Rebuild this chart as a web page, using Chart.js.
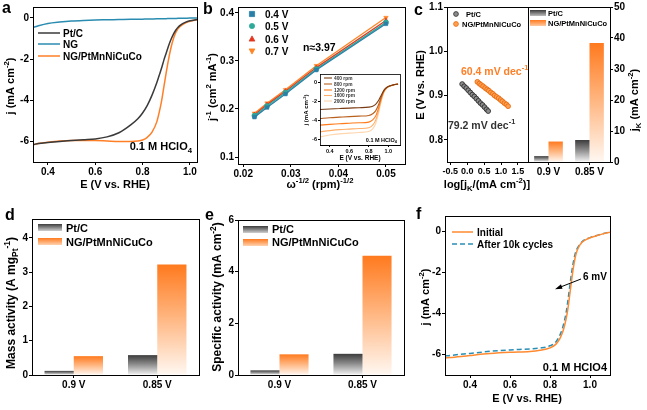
<!DOCTYPE html>
<html><head><meta charset="utf-8">
<script src="https://cdn.jsdelivr.net/npm/chart.js@4/dist/chart.umd.min.js"></script>
<style>
html,body{margin:0;padding:0;background:#fff;}
#wrap{position:relative;width:647px;height:410px;overflow:hidden;background:#fff;}
canvas{position:absolute;left:0;top:0;}
</style></head><body><div id="wrap">
<canvas id="cA" width="647" height="410"></canvas>
<canvas id="cB" width="647" height="410"></canvas>
<canvas id="cI" width="647" height="410"></canvas>
<canvas id="cC1" width="647" height="410"></canvas>
<canvas id="cC2" width="647" height="410"></canvas>
<canvas id="cD" width="647" height="410"></canvas>
<canvas id="cE" width="647" height="410"></canvas>
<canvas id="cF" width="647" height="410"></canvas>
</div>
<script>
// ---------- DATA ----------
// (a) LSV curves
const potA = [0.34,0.36,0.4,0.45,0.5,0.55,0.6,0.65,0.7,0.75,0.78,0.8,0.82,0.84,0.86,0.87,0.88,0.89,0.9,0.91,0.92,0.93,0.94,0.95,0.96,0.98,1.0,1.03];
const jPtC_A = [-6.15,-6.1,-6.05,-6.0,-5.96,-5.92,-5.88,-5.78,-5.58,-5.2,-4.9,-4.62,-4.25,-3.75,-3.15,-2.8,-2.45,-2.05,-1.7,-1.35,-1.05,-0.8,-0.6,-0.45,-0.35,-0.22,-0.14,-0.08];
const jNG_A = [-0.45,-0.38,-0.27,-0.2,-0.15,-0.12,-0.1,-0.09,-0.08,-0.07,-0.065,-0.06,-0.055,-0.05,-0.045,-0.043,-0.04,-0.038,-0.035,-0.033,-0.03,-0.028,-0.025,-0.022,-0.02,-0.015,-0.01,0.0];
const jHEA_A = [-6.15,-6.1,-6.04,-5.98,-5.95,-5.95,-5.96,-5.98,-6.0,-6.0,-5.98,-5.93,-5.8,-5.55,-5.05,-4.6,-4.05,-3.35,-2.65,-2.0,-1.45,-1.02,-0.72,-0.52,-0.4,-0.25,-0.16,-0.09];
const namesA = ['Pt/C','NG','NG/PtMnNiCuCo'];
const ticksAx = [0.4,0.6,0.8,1.0];
const ticksAy = [0,-2,-4,-6];

// (b) K-L plots
const omegaB = [0.02236,0.025,0.02887,0.03536,0.05];
const kl04 = [0.183,0.203,0.231,0.281,0.377];
const kl05 = [0.186,0.206,0.234,0.283,0.380];
const kl06 = [0.188,0.209,0.237,0.286,0.384];
const kl07 = [0.191,0.212,0.240,0.290,0.390];
const namesB = ['0.4 V','0.5 V','0.6 V','0.7 V'];
const ticksBx = [0.02,0.03,0.04,0.05];
const ticksBy = [0.1,0.2,0.3,0.4];

// (b) inset: LSV at rotation rates
const potI = [0.3,0.4,0.5,0.6,0.7,0.8,0.84,0.87,0.9,0.92,0.94,0.96,0.98,1.0,1.05,1.1];
const r400  = [-2.85,-2.8,-2.75,-2.7,-2.66,-2.6,-2.5,-2.3,-1.9,-1.5,-1.1,-0.75,-0.55,-0.42,-0.25,-0.15];
const r800  = [-3.8,-3.72,-3.66,-3.6,-3.55,-3.48,-3.3,-3.0,-2.35,-1.75,-1.2,-0.8,-0.57,-0.43,-0.25,-0.15];
const r1200 = [-4.5,-4.42,-4.35,-4.3,-4.25,-4.18,-3.95,-3.55,-2.7,-1.95,-1.3,-0.85,-0.6,-0.44,-0.26,-0.15];
const r1600 = [-5.2,-5.08,-4.98,-4.92,-4.86,-4.78,-4.5,-4.0,-3.0,-2.15,-1.4,-0.9,-0.62,-0.45,-0.26,-0.15];
const r2000 = [-5.75,-5.55,-5.42,-5.35,-5.28,-5.18,-4.9,-4.35,-3.25,-2.3,-1.5,-0.95,-0.64,-0.46,-0.27,-0.15];
const namesI = ['400 rpm','800 rpm','1200 rpm','1600 rpm','2000 rpm'];
const ticksIx = [0.4,0.6,0.8,1.0];
const ticksIy = [0,-2,-4,-6];

// (c) Tafel plots
const logjPt = [-0.15,-0.09,-0.03,0.03,0.09,0.15,0.21,0.27,0.33,0.39,0.45,0.51,0.57,0.62];
const ePt    = [0.926,0.921,0.917,0.912,0.907,0.902,0.898,0.893,0.888,0.883,0.879,0.874,0.869,0.865];
const logjHEA = [0.30,0.36,0.41,0.47,0.53,0.59,0.64,0.70,0.76,0.81,0.87,0.93,0.99,1.04,1.10,1.16,1.21];
const eHEA    = [0.931,0.927,0.924,0.921,0.917,0.914,0.911,0.907,0.904,0.900,0.897,0.894,0.890,0.887,0.883,0.880,0.876];
const ticksCx = [-0.5,0,0.5,1.0,1.5];
const ticksCy = [0.8,0.9,1.0,1.1];
// (c) kinetic current bars
const catV = ['0.9 V','0.85 V'];
const jkPt = [1.9,7.1];
const jkHEA = [6.6,38.4];
const ticksCr = [0,10,20,30,40,50];
const namesBar = ['Pt/C','NG/PtMnNiCuCo'];

// (d) mass activity
const maPt = [0.12,0.58];
const maHEA = [0.55,3.22];
const ticksDy = [0,1,2,3,4];
// (e) specific activity
const saPt = [0.18,0.82];
const saHEA = [0.80,4.62];
const ticksEy = [0,2,4,6];

// (f) stability
const potF = [0.275,0.3,0.4,0.5,0.6,0.7,0.75,0.8,0.83,0.85,0.86,0.87,0.88,0.89,0.9,0.91,0.92,0.93,0.94,0.96,0.98,1.0,1.03,1.06,1.1];
const jInit = [-6.17,-6.15,-6.05,-5.96,-5.9,-5.86,-5.8,-5.68,-5.5,-5.22,-5.0,-4.7,-4.3,-3.75,-3.0,-2.25,-1.6,-1.12,-0.85,-0.55,-0.42,-0.33,-0.24,-0.15,-0.06];
const jAfter = [-6.08,-6.05,-5.95,-5.85,-5.78,-5.73,-5.69,-5.58,-5.38,-5.05,-4.8,-4.45,-4.0,-3.35,-2.6,-1.9,-1.35,-0.98,-0.78,-0.52,-0.4,-0.32,-0.23,-0.14,-0.05];
const namesF = ['Initial','After 10k cycles'];
const ticksFx = [0.4,0.6,0.8,1.0];
const ticksFy = [0,-2,-4,-6];

// ---------- STYLE / HELPERS ----------
const FONT = '"Liberation Sans", Arial, Helvetica, sans-serif';
const W = 647, H = 410;
const C_PT = '#3a3a3a', C_NG = '#2a8cb0', C_OR = '#ff7f27';
Chart.defaults.font.family = FONT;
Chart.defaults.font.weight = 'bold';
Chart.defaults.font.size = 10;
Chart.defaults.color = '#000';
Chart.defaults.animation = false;
Chart.defaults.responsive = false;
Chart.defaults.devicePixelRatio = 1;
Chart.defaults.plugins.legend.display = false;
Chart.defaults.plugins.tooltip.enabled = false;

const xy = (xs, ys) => xs.map((x, i) => ({x: x, y: ys[i]}));
function pad(l, t, r, b, yW, xH, rW) {
  return {left: l - yW, top: t, right: W - r - (rW || 0), bottom: H - b - xH};
}
function linAxis(pos, min, max, vals, fmt, size, fs, tl) {
  const horiz = pos === 'bottom' || pos === 'top';
  return {
    type: 'linear', position: pos, min: min, max: max,
    border: {color: '#000', width: 1},
    grid: {drawOnChartArea: false, drawTicks: true, tickLength: tl || 3, color: '#000', lineWidth: 1},
    ticks: {color: '#000', font: {size: fs || 10, weight: 'bold'}, padding: 1, maxRotation: 0, minRotation: 0, autoSkip: false,
            callback: (v) => fmt(v)},
    afterBuildTicks: (s) => { s.ticks = vals.map(v => ({value: v})); },
    afterFit: (s) => { if (horiz) s.height = size; else s.width = size; }
  };
}
function catAxis(size) {
  return {
    type: 'category', position: 'bottom', offset: true,
    border: {color: '#000', width: 1},
    grid: {offset: false, drawOnChartArea: false, drawTicks: true, tickLength: 3, color: '#000'},
    ticks: {color: '#000', font: {size: 10, weight: 'bold'}, padding: 1, maxRotation: 0, minRotation: 0, autoSkip: false},
    afterFit: (s) => { s.height = size; }
  };
}
function rich(ctx, parts, x, y, o) {
  o = o || {};
  const size = o.size || 11, wt = o.weight || 'bold';
  ctx.save();
  ctx.translate(x, y);
  if (o.rot) ctx.rotate(o.rot);
  ctx.fillStyle = o.color || '#000';
  ctx.textBaseline = 'alphabetic';
  ctx.textAlign = 'left';
  const segs = parts.map(p => {
    const m = p[1] || 0, s = m ? size * 0.7 : size;
    ctx.font = wt + ' ' + s + 'px ' + FONT;
    return {t: p[0], m: m, s: s, w: ctx.measureText(p[0]).width};
  });
  const total = segs.reduce((a, b) => a + b.w, 0);
  let cx = o.align === 'left' ? 0 : o.align === 'right' ? -total : -total / 2;
  const base = size * 0.36;
  segs.forEach(sg => {
    ctx.font = wt + ' ' + sg.s + 'px ' + FONT;
    const dy = sg.m === 1 ? -size * 0.42 : sg.m === -1 ? size * 0.25 : 0;
    ctx.fillText(sg.t, cx, base + dy);
    cx += sg.w;
  });
  ctx.restore();
}
function letter(ctx, t, x, y) {
  ctx.save(); ctx.font = 'bold 16px ' + FONT; ctx.fillStyle = '#000';
  ctx.textBaseline = 'alphabetic'; ctx.fillText(t, x, y); ctx.restore();
}
function frame(chart, lw) {
  const ctx = chart.ctx, a = chart.chartArea;
  ctx.save(); ctx.strokeStyle = '#000'; ctx.lineWidth = lw || 1;
  ctx.strokeRect(Math.round(a.left) + 0.5, Math.round(a.top) + 0.5, Math.round(a.right - a.left), Math.round(a.bottom - a.top));
  ctx.restore();
}
function legLine(ctx, x1, x2, y, color, dash, lw) {
  ctx.save(); ctx.strokeStyle = color; ctx.lineWidth = lw || 1.5;
  if (dash) ctx.setLineDash(dash);
  ctx.beginPath(); ctx.moveTo(x1, y); ctx.lineTo(x2, y); ctx.stroke(); ctx.restore();
}
function marker(ctx, style, x, y, r, fill, stroke) {
  ctx.save(); ctx.fillStyle = fill; ctx.strokeStyle = stroke; ctx.lineWidth = 0.8;
  ctx.beginPath();
  if (style === 'circle') ctx.arc(x, y, r, 0, Math.PI * 2);
  else if (style === 'rect') ctx.rect(x - r, y - r, 2 * r, 2 * r);
  else if (style === 'tri') { ctx.moveTo(x, y - r * 1.2); ctx.lineTo(x + r * 1.1, y + r * 0.8); ctx.lineTo(x - r * 1.1, y + r * 0.8); ctx.closePath(); }
  else if (style === 'trid') { ctx.moveTo(x, y + r * 1.2); ctx.lineTo(x + r * 1.1, y - r * 0.8); ctx.lineTo(x - r * 1.1, y - r * 0.8); ctx.closePath(); }
  ctx.fill(); ctx.stroke(); ctx.restore();
}
function legBox(ctx, x, y, w, h, top, bottom) {
  const g = ctx.createLinearGradient(0, y, 0, y + h);
  g.addColorStop(0, top); g.addColorStop(1, bottom);
  ctx.save(); ctx.fillStyle = g; ctx.fillRect(x, y, w, h); ctx.restore();
}
function gradFill(top, mid, bottom) {
  return (c) => {
    const chart = c.chart;
    if (c.type !== 'data' || !chart.chartArea) return top;
    const ys = chart.scales.y;
    const y1 = ys.getPixelForValue(c.raw), y0 = ys.getPixelForValue(0);
    const g = chart.ctx.createLinearGradient(0, y1, 0, y0);
    g.addColorStop(0, top); g.addColorStop(0.45, mid); g.addColorStop(1, bottom);
    return g;
  };
}
const GRAY_T = '#3c3c3c', GRAY_M = '#8a8a8a', GRAY_B = '#f4f4f4';
const OR_T = '#ff7a1e', OR_M = '#ffb27a', OR_B = '#fff8f2';
const f1 = v => v.toFixed(1), f2 = v => v.toFixed(2), f0 = v => String(Math.round(v));
const HCLO4 = [['0.1 M HClO', 0], ['4', -1]];
const lineDS = (label, xs, ys, color, extra) => Object.assign({
  label: label, data: xy(xs, ys), showLine: true, borderColor: color, backgroundColor: color,
  borderWidth: 1.5, pointRadius: 0, cubicInterpolationMode: 'monotone'
}, extra || {});

// ---------- (a) ----------
new Chart(document.getElementById('cA'), {
  type: 'scatter',
  data: {datasets: [
    lineDS(namesA[1], potA, jNG_A, C_NG),
    lineDS(namesA[0], potA, jPtC_A, C_PT),
    lineDS(namesA[2], potA, jHEA_A, C_OR)
  ]},
  options: {
    layout: {padding: pad(33, 6, 197, 162, 33, 22)},
    scales: {
      x: linAxis('bottom', 0.337, 1.03, ticksAx, f1, 22),
      y: linAxis('left', -7, 0.53, ticksAy, f0, 33)
    }
  },
  plugins: [{id: 'decoA', afterDraw(chart) {
    const ctx = chart.ctx; frame(chart);
    letter(ctx, 'a', 2, 13);
    rich(ctx, [['E (V vs. RHE)', 0]], 115, 184, {size: 11});
    rich(ctx, [['j (mA cm', 0], ['-2', 1], [')', 0]], 10, 86, {size: 11, rot: -Math.PI / 2});
    rich(ctx, HCLO4, 192, 146, {size: 11, align: 'right'});
    const rows = [[C_PT, namesA[0], 33], [C_NG, namesA[1], 44], [C_OR, namesA[2], 56]];
    rows.forEach(r => { legLine(ctx, 38, 60, r[2], r[0]); rich(ctx, [[r[1], 0]], 63, r[2], {size: 10, align: 'left'}); });
  }}]
});

// ---------- (b) ----------
const colB = ['#2a7fa6', '#2faa98', '#e3361f', '#ff8424'];
const styB = ['rect', 'circle', 'triangle', 'triangle'];
const klSets = [kl04, kl05, kl06, kl07];
new Chart(document.getElementById('cB'), {
  type: 'scatter',
  data: {datasets: klSets.map((d, i) => ({
    label: namesB[i], data: xy(omegaB, d), showLine: true, borderColor: colB[i], backgroundColor: colB[i],
    borderWidth: 1.3, pointRadius: 2.6, pointStyle: styB[i], pointRotation: i === 3 ? 180 : 0, pointBorderWidth: 0.5
  }))},
  options: {
    layout: {padding: pad(238, 6, 405, 164, 26, 20)},
    scales: {
      x: linAxis('bottom', 0.0189, 0.054, ticksBx, f2, 20),
      y: linAxis('left', 0.0855, 0.412, ticksBy, f1, 26)
    }
  },
  plugins: [{id: 'decoB', afterDraw(chart) {
    const ctx = chart.ctx; frame(chart);
    letter(ctx, 'b', 203, 14);
    rich(ctx, [['\u03c9', 0], ['-1/2', 1], [' (rpm)', 0], ['-1/2', 1]], 320, 184, {size: 11});
    rich(ctx, [['j', 0], ['-1', 1], [' (cm', 0], ['2', 1], [' mA', 0], ['-1', 1], [')', 0]], 212, 87, {size: 11, rot: -Math.PI / 2});
    rich(ctx, [['n\u22483.97', 0]], 303, 47, {size: 10.5, align: 'left'});
    const ms = ['rect', 'circle', 'tri', 'trid'], ry = [14, 26, 39, 51];
    namesB.forEach((n, i) => { marker(ctx, ms[i], 252, ry[i], 2.6, colB[i], colB[i]); rich(ctx, [[n, 0]], 265, ry[i], {size: 10, align: 'left'}); });
  }}]
});

// ---------- (b) inset ----------
const colI = ['#7a3b12', '#b8601e', '#ff7a1a', '#ffae6a', '#ffd6ad'];
const rpmSets = [r400, r800, r1200, r1600, r2000];
new Chart(document.getElementById('cI'), {
  type: 'scatter',
  data: {datasets: rpmSets.map((d, i) => lineDS(namesI[i], potI, d, colI[i], {borderWidth: 1.1}))},
  options: {
    layout: {padding: pad(320, 74, 400, 145, 10, 8)},
    scales: {
      x: linAxis('bottom', 0.3, 1.12, ticksIx, f1, 8, 5.5, 2),
      y: linAxis('left', -6.6, 0.9, ticksIy, f0, 10, 5.5, 2)
    }
  },
  plugins: [{id: 'decoI',
    beforeDatasetsDraw(chart) { const a = chart.chartArea, ctx = chart.ctx; ctx.save(); ctx.fillStyle = '#fff'; ctx.fillRect(a.left, a.top, a.right - a.left, a.bottom - a.top); ctx.restore(); },
    afterDraw(chart) {
      const ctx = chart.ctx; frame(chart, 0.8);
      rich(ctx, [['E (V vs. RHE)', 0]], 360, 158, {size: 6.5});
      rich(ctx, [['j (mA cm', 0], ['-2', 1], [')', 0]], 306, 110, {size: 6, rot: -Math.PI / 2});
      rich(ctx, HCLO4, 397, 140, {size: 5.5, align: 'right'});
      const ry = [78, 84, 90, 95.5, 101];
      namesI.forEach((n, i) => { legLine(ctx, 324, 332, ry[i], colI[i], null, 1.1); rich(ctx, [[n, 0]], 334, ry[i], {size: 4.8, align: 'left', color: '#333'}); });
  }}]
});

// ---------- (c) left: Tafel ----------
new Chart(document.getElementById('cC1'), {
  type: 'scatter',
  data: {datasets: [
    {label: namesBar[0], data: xy(logjPt, ePt), pointRadius: 2.4, pointBackgroundColor: '#8c8c8c', pointBorderColor: '#2e2e2e', pointBorderWidth: 0.9},
    {label: namesBar[1], data: xy(logjHEA, eHEA), pointRadius: 2.4, pointBackgroundColor: '#ffa050', pointBorderColor: '#e86a10', pointBorderWidth: 0.9}
  ]},
  options: {
    layout: {padding: pad(447, 7, 528, 162, 26, 20)},
    scales: {
      x: linAxis('bottom', -0.6, 1.8, ticksCx, f1, 20, 9),
      y: linAxis('left', 0.75, 1.1, ticksCy, f1, 26)
    }
  },
  plugins: [{id: 'decoC1', afterDraw(chart) {
    const ctx = chart.ctx; frame(chart);
    letter(ctx, 'c', 414, 15);
    rich(ctx, [['log[j', 0], ['K', -1], ['/(mA cm', 0], ['-2', 1], [')]', 0]], 487, 184, {size: 11});
    rich(ctx, [['E (V vs. RHE)', 0]], 420, 85, {size: 11, rot: -Math.PI / 2});
    rich(ctx, [['60.4 mV dec', 0], ['-1', 1]], 461, 71, {size: 10.5, align: 'left', color: '#ff7f27'});
    rich(ctx, [['79.2 mV dec', 0], ['-1', 1]], 448, 125, {size: 10.5, align: 'left', color: '#333'});
    marker(ctx, 'circle', 456, 14, 2.4, '#8c8c8c', '#2e2e2e');
    marker(ctx, 'circle', 456, 24, 2.4, '#ffa050', '#e86a10');
    rich(ctx, [[namesBar[0], 0]], 466, 14, {size: 7.5, align: 'left'});
    rich(ctx, [[namesBar[1], 0]], 462, 24, {size: 7.5, align: 'left'});
  }}]
});

// ---------- (c) right: jK bars ----------
function barChart(id, ptVals, heaVals, area, yAxis, deco) {
  return new Chart(document.getElementById(id), {
    type: 'bar',
    data: {labels: catV, datasets: [
      {label: namesBar[0], data: ptVals, backgroundColor: gradFill(GRAY_T, GRAY_M, GRAY_B), borderWidth: 0, categoryPercentage: 0.7, barPercentage: 1.0},
      {label: namesBar[1], data: heaVals, backgroundColor: gradFill(OR_T, OR_M, OR_B), borderWidth: 0, categoryPercentage: 0.7, barPercentage: 1.0}
    ]},
    options: {layout: {padding: area}, scales: {x: catAxis(20), y: yAxis}},
    plugins: [{id: 'deco' + id, afterDraw(chart) { frame(chart); deco(chart.ctx); }}]
  });
}
barChart('cC2', jkPt, jkHEA, pad(528, 7, 610, 162, 0, 20, 20),
  linAxis('right', 0, 50, ticksCr, f0, 20),
  (ctx) => {
    rich(ctx, [['j', 0], ['K', -1], [' (mA cm', 0], ['-2', 1], [')', 0]], 634, 100, {size: 11, rot: -Math.PI / 2});
    legBox(ctx, 530, 10, 16, 6, GRAY_T, '#bdbdbd');
    legBox(ctx, 530, 20, 16, 6, OR_T, '#ffc9a0');
    rich(ctx, [[namesBar[0], 0]], 548, 13, {size: 7.5, align: 'left'});
    rich(ctx, [[namesBar[1], 0]], 548, 23, {size: 7.5, align: 'left'});
  });

// ---------- (d) ----------
barChart('cD', maPt, maHEA, pad(32, 219, 199, 375, 22, 20),
  linAxis('left', 0, 4.55, ticksDy, f0, 22),
  (ctx) => {
    letter(ctx, 'd', 5, 220);
    rich(ctx, [['Mass activity (A mg', 0], ['Pt', -1], ['-1', 1], [')', 0]], 11, 303, {size: 12, rot: -Math.PI / 2});
    legBox(ctx, 38, 224, 24, 7, GRAY_T, '#cfcfcf');
    legBox(ctx, 38, 238, 24, 7, OR_T, '#ffd2b0');
    rich(ctx, [[namesBar[0], 0]], 66, 228, {size: 11, align: 'left'});
    rich(ctx, [[namesBar[1], 0]], 66, 242, {size: 11, align: 'left'});
  });

// ---------- (e) ----------
barChart('cE', saPt, saHEA, pad(238, 220, 404, 375, 22, 20),
  linAxis('left', 0, 6, ticksEy, f0, 22),
  (ctx) => {
    letter(ctx, 'e', 205, 220);
    rich(ctx, [['Specific activity (mA cm', 0], ['-2', 1], [')', 0]], 217, 297, {size: 12, rot: -Math.PI / 2});
    legBox(ctx, 243, 226, 25, 7, GRAY_T, '#cfcfcf');
    legBox(ctx, 243, 239, 25, 7, OR_T, '#ffd2b0');
    rich(ctx, [[namesBar[0], 0]], 272, 229, {size: 11, align: 'left'});
    rich(ctx, [[namesBar[1], 0]], 272, 242, {size: 11, align: 'left'});
  });

// ---------- (f) ----------
const C_ORF = '#ff8a30', C_DASH = '#2a8db5';
new Chart(document.getElementById('cF'), {
  type: 'scatter',
  data: {datasets: [
    lineDS(namesF[0], potF, jInit, C_ORF),
    lineDS(namesF[1], potF, jAfter, C_DASH, {borderDash: [5, 3]})
  ]},
  options: {
    layout: {padding: pad(445, 216, 610, 375, 28, 22)},
    scales: {
      x: linAxis('bottom', 0.275, 1.1, ticksFx, f1, 22),
      y: linAxis('left', -7, 0.73, ticksFy, f0, 28)
    }
  },
  plugins: [{id: 'decoF', afterDraw(chart) {
    const ctx = chart.ctx; frame(chart);
    letter(ctx, 'f', 416, 219);
    rich(ctx, [['E (V vs. RHE)', 0]], 527, 398, {size: 11});
    rich(ctx, [['j (mA cm', 0], ['-2', 1], [')', 0]], 425, 297, {size: 11, rot: -Math.PI / 2});
    rich(ctx, [['0.1 M HClO4', 0]], 607, 367, {size: 11, align: 'right'});
    legLine(ctx, 452, 473, 232, C_ORF);
    legLine(ctx, 452, 473, 244, C_DASH, [5, 3]);
    rich(ctx, [[namesF[0], 0]], 477, 232, {size: 10, align: 'left'});
    rich(ctx, [[namesF[1], 0]], 477, 244, {size: 10, align: 'left'});
    rich(ctx, [['6 mV', 0]], 583, 276, {size: 10, align: 'left'});
    ctx.save(); ctx.strokeStyle = '#000'; ctx.fillStyle = '#000'; ctx.lineWidth = 1;
    ctx.beginPath(); ctx.moveTo(581, 279); ctx.lineTo(558, 288); ctx.stroke();
    ctx.beginPath(); ctx.moveTo(555, 289.2); ctx.lineTo(561, 284.3); ctx.lineTo(562.5, 288.8); ctx.closePath(); ctx.fill();
    ctx.restore();
  }}]
});
</script></body></html>
